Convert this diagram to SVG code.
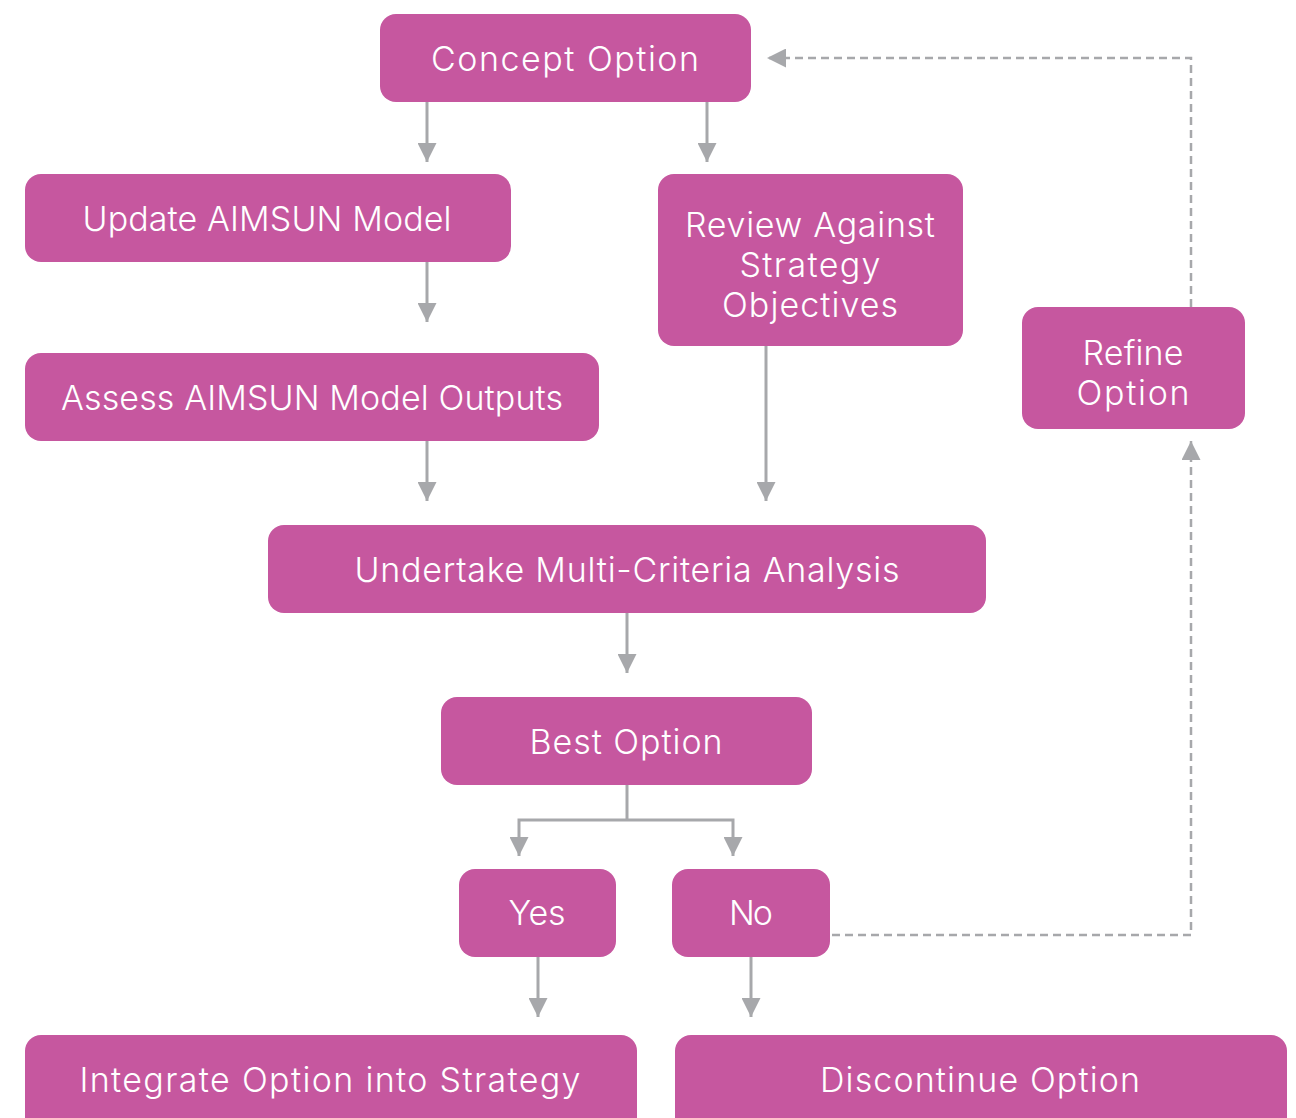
<svg xmlns="http://www.w3.org/2000/svg" width="1296" height="1118" viewBox="0 0 1296 1118">
  <defs>
    <style>
      .box { fill: #c6579f; }
      .lbl { fill: #ffffff; font-family: Inter, "Open Sans", "Liberation Sans", sans-serif; font-weight: 300; font-size: 34px; text-anchor: middle; }
      .solid { fill: none; stroke: #a7a8ab; stroke-width: 3; }
      .dash { fill: none; stroke: #a7a8ab; stroke-width: 2.5; stroke-dasharray: 8 5; }
    </style>
    <marker id="arrow" viewBox="0 0 20 19" refX="19" refY="9.5" markerWidth="20" markerHeight="19" markerUnits="userSpaceOnUse" orient="auto">
      <path d="M0,0 L19,9.5 L0,19 Z" fill="#a7a8ab"/>
    </marker>
  </defs>

  <rect width="1296" height="1118" fill="#ffffff"/>

  <!-- connectors -->
  <g id="connectors">
    <path class="solid" d="M427,102 V162" marker-end="url(#arrow)"/>
    <path class="solid" d="M707,102 V162" marker-end="url(#arrow)"/>
    <path class="solid" d="M427,262 V322" marker-end="url(#arrow)"/>
    <path class="solid" d="M427,441 V501" marker-end="url(#arrow)"/>
    <path class="solid" d="M766,346 V501" marker-end="url(#arrow)"/>
    <path class="solid" d="M627,613 V673" marker-end="url(#arrow)"/>
    <path class="solid" d="M627,785 V820"/>
    <path class="solid" d="M627,820 H519 V856" marker-end="url(#arrow)"/>
    <path class="solid" d="M627,820 H733 V856" marker-end="url(#arrow)"/>
    <path class="solid" d="M538,957 V1017" marker-end="url(#arrow)"/>
    <path class="solid" d="M751,957 V1017" marker-end="url(#arrow)"/>
    <path class="dash" d="M832,935 H1191 V441" marker-end="url(#arrow)"/>
    <path class="dash" d="M1191,307 V58 H767" marker-end="url(#arrow)"/>
  </g>

  <g id="concept-option">
    <rect class="box" x="380" y="14" width="371" height="88" rx="16"/>
    <text class="lbl" x="565" y="71" textLength="268" lengthAdjust="spacing">Concept Option</text>
  </g>

  <g id="update-aimsun-model">
    <rect class="box" x="25" y="174" width="486" height="88" rx="16"/>
    <text class="lbl" x="267" y="231" textLength="369" lengthAdjust="spacing">Update AIMSUN Model</text>
  </g>

  <g id="review-against-strategy">
    <rect class="box" x="658" y="174" width="305" height="172" rx="16"/>
    <text class="lbl" x="810" y="237" textLength="250" lengthAdjust="spacing">Review Against</text>
    <text class="lbl" x="810" y="277" textLength="141" lengthAdjust="spacing">Strategy</text>
    <text class="lbl" x="810" y="317" textLength="176" lengthAdjust="spacing">Objectives</text>
  </g>

  <g id="assess-aimsun-outputs">
    <rect class="box" x="25" y="353" width="574" height="88" rx="16"/>
    <text class="lbl" x="312" y="410" textLength="502" lengthAdjust="spacing">Assess AIMSUN Model Outputs</text>
  </g>

  <g id="refine-option">
    <rect class="box" x="1022" y="307" width="223" height="122" rx="16"/>
    <text class="lbl" x="1133" y="365" textLength="101" lengthAdjust="spacing">Refine</text>
    <text class="lbl" x="1133" y="405" textLength="113" lengthAdjust="spacing">Option</text>
  </g>

  <g id="multi-criteria-analysis">
    <rect class="box" x="268" y="525" width="718" height="88" rx="16"/>
    <text class="lbl" x="627" y="582" textLength="545" lengthAdjust="spacing">Undertake Multi-Criteria Analysis</text>
  </g>

  <g id="best-option">
    <rect class="box" x="441" y="697" width="371" height="88" rx="16"/>
    <text class="lbl" x="626" y="754" textLength="193" lengthAdjust="spacing">Best Option</text>
  </g>

  <g id="yes">
    <rect class="box" x="459" y="869" width="157" height="88" rx="16"/>
    <text class="lbl" x="537" y="925" textLength="57" lengthAdjust="spacing">Yes</text>
  </g>

  <g id="no">
    <rect class="box" x="672" y="869" width="158" height="88" rx="16"/>
    <text class="lbl" x="751" y="925" textLength="44" lengthAdjust="spacing">No</text>
  </g>

  <g id="integrate-option">
    <rect class="box" x="25" y="1035" width="612" height="100" rx="16"/>
    <text class="lbl" x="330" y="1092" textLength="501" lengthAdjust="spacing">Integrate Option into Strategy</text>
  </g>

  <g id="discontinue-option">
    <rect class="box" x="675" y="1035" width="612" height="100" rx="16"/>
    <text class="lbl" x="980" y="1092" textLength="320" lengthAdjust="spacing">Discontinue Option</text>
  </g>
</svg>
